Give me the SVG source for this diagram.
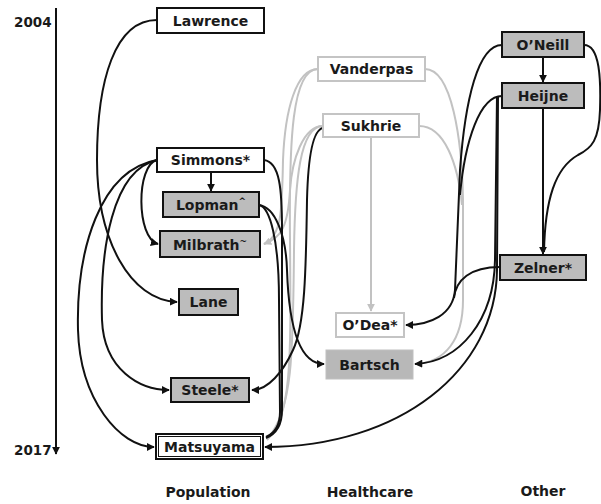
<svg xmlns="http://www.w3.org/2000/svg" width="601" height="504" viewBox="0 0 601 504">
<style>
.lbl{font-family:"DejaVu Sans","Liberation Sans",sans-serif;font-weight:bold;font-size:14px;fill:#1a1a1a;text-anchor:middle}
.yr{font-family:"DejaVu Sans","Liberation Sans",sans-serif;font-weight:bold;font-size:13.5px;fill:#1a1a1a}
.wb{fill:#fff;stroke:#111;stroke-width:2}
.gb{fill:#bcbcbc;stroke:#111;stroke-width:2}
.wg{fill:#fff;stroke:#c4c4c4;stroke-width:2}
.gg{fill:#b8b8b8;stroke:#c0c0c0;stroke-width:1}
.k{fill:none;stroke:#111;stroke-width:2}
.g{fill:none;stroke:#c2c2c2;stroke-width:2}
</style>
<defs>
<marker id="ak" viewBox="0 0 10 10" refX="9" refY="5" markerWidth="4" markerHeight="4" orient="auto" markerUnits="strokeWidth"><path d="M0,0 L10,5 L0,10 z" fill="#111"/></marker>
<marker id="ag" viewBox="0 0 10 10" refX="9" refY="5" markerWidth="4" markerHeight="4" orient="auto" markerUnits="strokeWidth"><path d="M0,0 L10,5 L0,10 z" fill="#c2c2c2"/></marker>
</defs>
<g id="timeline">
<path d="M56,8 L56,454" class="k" marker-end="url(#ak)"/>
<text x="14" y="27" class="yr">2004</text>
<text x="14" y="455" class="yr">2017</text>
</g>
<g id="connectors">
<path class="g" d="M318,69 C296,69 285,110 283,160 C282,210 282,236 264,244" marker-end="url(#ag)"/>
<path class="g" d="M323,126 C303,126 292,160 290,190 C288,225 282,238 264,244"/>
<path class="g" d="M318,69 C292,69 289,140 290,240 C291,360 292,415 267,440"/>
<path class="g" d="M323,126 C300,126 295,180 294,250 C293,350 293,410 268,438"/>
<path class="g" d="M371,137 L371,311" marker-end="url(#ag)"/>
<path class="g" d="M425,69 C452,69 462,140 463,200 L463,300 C463,340 445,362 416,364" marker-end="url(#ag)"/>
<path class="g" d="M419,126 C445,126 458,165 462,205"/>
<path class="k" d="M157,20 C115,20 97,80 97,160 C97,240 130,300 177,302" marker-end="url(#ak)"/>
<path class="k" d="M211,172 L211,191" marker-end="url(#ak)"/>
<path class="k" d="M157,160 C136,165 136,238 158,244" marker-end="url(#ak)"/>
<path class="k" d="M157,160 C112,170 100,250 102,320 C104,370 140,390 169,390" marker-end="url(#ak)"/>
<path class="k" d="M157,160 C100,170 76,250 78,330 C80,400 120,447 154,447" marker-end="url(#ak)"/>
<path class="k" d="M264,160 C280,162 282,190 282,230 L282,410 C282,425 276,434 266,438"/>
<path class="k" d="M259,205 C275,207 286,235 287,270 C289,330 300,364 324,364" marker-end="url(#ak)"/>
<path class="k" d="M259,205 C270,207 279,240 279,300 L280,412 C280,426 275,433 266,437"/>
<path class="k" d="M323,128 C312,130 308,160 307,200 C306,270 305,325 293,350 C283,372 268,390 252,390" marker-end="url(#ak)"/>
<path class="k" d="M543,57 L543,82" marker-end="url(#ak)"/>
<path class="k" d="M543,108 L543,254" marker-end="url(#ak)"/>
<path class="k" d="M584,45 C600,45 601,80 600,110 C599,140 592,148 578,155 C555,168 545,200 544,252"/>
<path class="k" d="M502,45 C478,45 465,100 460,170 L455,290 C453,315 430,325 406,325" marker-end="url(#ak)"/>
<path class="k" d="M502,96 C480,96 465,140 460,195"/>
<path class="k" d="M500,267 C470,267 456,280 454,298"/>
<path class="k" d="M497,96 L495,260 C494,320 460,362 415,364" marker-end="url(#ak)"/>
<path class="k" d="M498,96 L497,270 C496,370 400,447 265,447" marker-end="url(#ak)"/>
</g>
<g id="n-lawrence"><rect x="157" y="8" width="107" height="25" class="wb"/><text x="210.5" y="26" class="lbl">Lawrence</text></g>
<g id="n-simmons"><rect x="157" y="148" width="107" height="24" class="wb"/><text x="210.5" y="165" class="lbl">Simmons*</text></g>
<g id="n-lopman"><rect x="163" y="192" width="96" height="25" class="gb"/><text x="211" y="210" class="lbl">Lopman<tspan font-size="9" dy="-6">^</tspan></text></g>
<g id="n-milbrath"><rect x="160" y="231" width="100" height="26" class="gb"/><text x="210" y="249.5" class="lbl">Milbrath<tspan font-size="9" dy="-6">~</tspan></text></g>
<g id="n-lane"><rect x="179" y="289" width="59" height="26" class="gb"/><text x="208.5" y="307" class="lbl">Lane</text></g>
<g id="n-steele"><rect x="171" y="378" width="78" height="24" class="gb"/><text x="210" y="395" class="lbl">Steele*</text></g>
<g id="n-matsuyama"><rect x="156" y="434" width="107" height="25" class="wb"/><rect x="158.5" y="436.5" width="102" height="20" fill="none" stroke="#111" stroke-width="1"/><text x="209.5" y="451.5" class="lbl">Matsuyama</text></g>
<g id="n-vanderpas"><rect x="318" y="57" width="107" height="24" class="wg"/><text x="371.5" y="74" class="lbl">Vanderpas</text></g>
<g id="n-sukhrie"><rect x="323" y="114" width="96" height="23" class="wg"/><text x="371" y="130.5" class="lbl">Sukhrie</text></g>
<g id="n-odea"><rect x="336" y="313" width="68" height="24" class="wg"/><text x="370" y="330" class="lbl">O’Dea*</text></g>
<g id="n-bartsch"><rect x="326" y="350" width="87" height="29" class="gg"/><text x="369.5" y="369.5" class="lbl">Bartsch</text></g>
<g id="n-oneill"><rect x="502" y="32" width="82" height="25" class="gb"/><text x="543" y="50" class="lbl">O’Neill</text></g>
<g id="n-heijne"><rect x="502" y="83" width="82" height="25" class="gb"/><text x="543" y="101" class="lbl">Heijne</text></g>
<g id="n-zelner"><rect x="500" y="255" width="86" height="25" class="gb"/><text x="543" y="273" class="lbl">Zelner*</text></g>
<g id="categories">
<text x="208" y="497" class="lbl">Population</text>
<text x="370" y="497" class="lbl">Healthcare</text>
<text x="543" y="496" class="lbl">Other</text>
</g>
</svg>
